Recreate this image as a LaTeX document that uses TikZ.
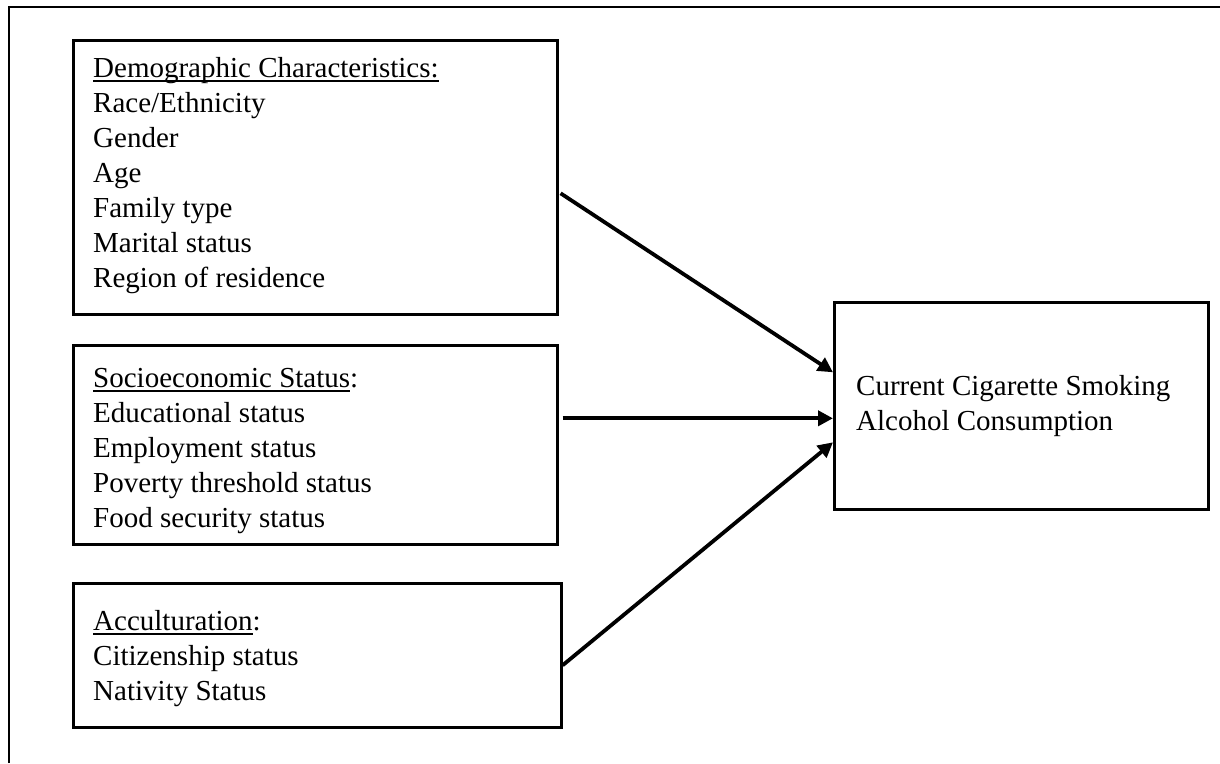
\documentclass[tikz,border=0pt]{standalone}
\usepackage{fontspec}
\setmainfont{Liberation Serif}
\usetikzlibrary{arrows.meta}
\newcommand{\ulword}[1]{\setbox0\hbox{#1}\rlap{\rule[-4.2pt]{\wd0}{1.7pt}}#1}
\tikzset{
  factorbox/.style={draw, line width=2.6pt, inner sep=0pt, anchor=north west},
  listtext/.style={inner sep=0pt, anchor=north west, align=left,
    font=\fontsize{29}{35}\selectfont},
  effect/.style={-{Triangle[length=15pt,width=15pt]}, line width=3.8pt}
}
\begin{document}
\begin{tikzpicture}[x=1pt,y=-1pt]
        \useasboundingbox (0,0) rectangle (1220,763);
        % outer frame
        \draw[line width=2pt] (9,763) -- (9,7) -- (1220,7);
        % factor boxes
        \node[factorbox, minimum width=484pt, minimum height=274pt] (demo) at (72,39) {};
        \node[factorbox, minimum width=484pt, minimum height=199pt] (ses) at (72,344) {};
        \node[factorbox, minimum width=488pt, minimum height=144pt] (accult) at (72,582) {};
        \node[factorbox, minimum width=374pt, minimum height=207pt] (outc) at (833,301) {};
        % box texts
        \node[listtext] (demotxt) at (93,57.3) {\ulword{Demographic Characteristics:}\\
          Race/Ethnicity\\ Gender\\ Age\\ Family type\\ Marital status\\ Region of residence};
        \node[listtext] (sestxt) at (93,368.3) {\ulword{Socioeconomic Status}:\\
          Educational status\\ Employment status\\ Poverty threshold status\\ Food security status};
        \node[listtext] (accultxt) at (93,610.3) {\ulword{Acculturation}:\\
          Citizenship status\\ Nativity Status};
        \node[listtext] (outctxt) at (856,375.3) {Current Cigarette Smoking\\ Alcohol Consumption};
        % paths
        \draw[effect] ([xshift=2pt,yshift=-16pt]demo.east) -- ([yshift=33.5pt]outc.west);
        \draw[effect] ([xshift=4pt,yshift=26.5pt]ses.east) -- ([yshift=-12.5pt]outc.west);
        \draw[effect] ([yshift=-10pt]accult.east) -- ([yshift=-36.5pt]outc.west);
    \end{tikzpicture}
\end{document}
